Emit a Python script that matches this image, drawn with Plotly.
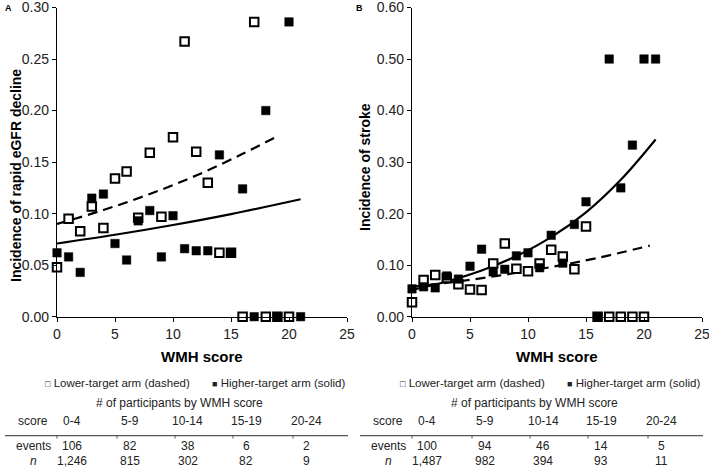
import plotly.graph_objects as go

# ---------------- data ----------------
# Panel A: incidence of rapid eGFR decline by WMH score
wmh_lower_A = [0, 1, 2, 3, 4, 5, 6, 7, 8, 9, 10, 11, 12, 13, 14, 15, 16, 17, 18, 19, 20]
inc_lower_A = [0.048, 0.095, 0.083, 0.107, 0.086, 0.134, 0.141, 0.096, 0.159, 0.097, 0.174,
               0.267, 0.160, 0.130, 0.062, 0.062, 0.0, 0.286, 0.0, 0.0, 0.0]
wmh_higher_A = [0, 1, 2, 3, 4, 5, 6, 7, 8, 9, 10, 11, 12, 13, 14, 15, 16, 17, 18, 19, 20, 21]
inc_higher_A = [0.062, 0.058, 0.043, 0.115, 0.119, 0.071, 0.055, 0.093, 0.103, 0.058, 0.098,
                0.066, 0.064, 0.064, 0.157, 0.062, 0.124, 0.0, 0.200, 0.0, 0.286, 0.0]
# trend lines
trend_lower_A_x = [0, 4, 8, 12, 16, 19]
trend_lower_A_y = [0.090, 0.1035, 0.119, 0.137, 0.158, 0.175]
trend_higher_A_x = [0, 5, 10, 15, 21]
trend_higher_A_y = [0.071, 0.0795, 0.089, 0.0996, 0.114]

# Panel B: incidence of stroke by WMH score
wmh_lower_B = [0, 1, 2, 3, 4, 5, 6, 7, 8, 9, 10, 11, 12, 13, 14, 15, 16, 17, 18, 19, 20]
inc_lower_B = [0.028, 0.071, 0.081, 0.075, 0.063, 0.053, 0.052, 0.103, 0.142, 0.093, 0.088,
               0.103, 0.130, 0.117, 0.092, 0.175, 0.0, 0.0, 0.0, 0.0, 0.0]
wmh_higher_B = [0, 1, 2, 3, 4, 5, 6, 7, 8, 9, 10, 11, 12, 13, 14, 15, 16, 17, 18, 19, 20, 21]
inc_higher_B = [0.054, 0.058, 0.056, 0.079, 0.073, 0.098, 0.131, 0.087, 0.092, 0.118, 0.124,
                0.095, 0.158, 0.104, 0.179, 0.223, 0.0, 0.500, 0.250, 0.333, 0.500, 0.500]
trend_lower_B_x = [0, 4, 8, 12, 16, 20.5]
trend_lower_B_y = [0.058, 0.0685, 0.0815, 0.0964, 0.114, 0.138]
trend_higher_B_x = [0, 3, 6, 9, 12, 15, 18, 21]
trend_higher_B_y = [0.052, 0.0683, 0.0896, 0.1176, 0.1543, 0.2025, 0.2657, 0.344]

# Tables
score_bins = ["0-4", "5-9", "10-14", "15-19", "20-24"]
events_A = [106, 82, 38, 6, 2]
n_A = [1246, 815, 302, 82, 9]
events_B = [100, 94, 46, 14, 5]
n_B = [1487, 982, 394, 93, 11]

y_title_A = "Incidence of rapid eGFR decline"
y_title_B = "Incidence of stroke"
x_title = "WMH score"
legend_lower = "Lower-target arm (dashed)"
legend_higher = "Higher-target arm (solid)"
table_title = "# of participants by WMH score"

# ---------------- figure ----------------
W, H = 709, 468
def px(x):
    return x / W
def py(y):
    return 1 - y / H

FONT = "Liberation Sans, Arial, sans-serif"
TXT = "#222222"

fig = go.Figure()

def add_panel(xa, ya, tlx, tly, thx, thy, xl, yl, xh, yh):
    fig.add_trace(go.Scatter(x=tlx, y=tly, mode="lines", line_shape="spline",
                             line=dict(color="black", width=2.2, dash="10px,6px"),
                             xaxis=xa, yaxis=ya, hoverinfo="skip"))
    fig.add_trace(go.Scatter(x=thx, y=thy, mode="lines", line_shape="spline",
                             line=dict(color="black", width=2.2),
                             xaxis=xa, yaxis=ya, hoverinfo="skip"))
    fig.add_trace(go.Scatter(x=xl, y=yl, mode="markers", cliponaxis=False,
                             marker=dict(symbol="square", size=8.5, color="white",
                                         line=dict(color="black", width=2)),
                             xaxis=xa, yaxis=ya))
    fig.add_trace(go.Scatter(x=xh, y=yh, mode="markers", cliponaxis=False,
                             marker=dict(symbol="square", size=8.5, color="black",
                                         line=dict(color="black", width=0.5)),
                             xaxis=xa, yaxis=ya))

add_panel("x", "y", trend_lower_A_x, trend_lower_A_y, trend_higher_A_x, trend_higher_A_y,
          wmh_lower_A, inc_lower_A, wmh_higher_A, inc_higher_A)
add_panel("x2", "y2", trend_lower_B_x, trend_lower_B_y, trend_higher_B_x, trend_higher_B_y,
          wmh_lower_B, inc_lower_B, wmh_higher_B, inc_higher_B)

ydom = [py(316.7), py(7.5)]
ax_common = dict(showline=True, linecolor="black", linewidth=1.3, ticks="outside",
                 ticklen=4, tickcolor="black", tickwidth=1.2, showgrid=False, zeroline=False,
                 automargin=False, ticklabeloverflow="allow",
                 tickfont=dict(family=FONT, size=14, color=TXT))
fig.update_layout(
    width=W, height=H, margin=dict(l=0, r=0, t=0, b=0, autoexpand=False),
    paper_bgcolor="white", plot_bgcolor="white", showlegend=False,
    xaxis=dict(domain=[px(57), px(347)], range=[0, 25], dtick=5, tick0=0, anchor="y", **ax_common),
    yaxis=dict(domain=ydom, range=[0, 0.30], dtick=0.05, tick0=0, tickformat=".2f", anchor="x", **ax_common),
    xaxis2=dict(domain=[px(412), px(702)], range=[0, 25], dtick=5, tick0=0, anchor="y2", **ax_common),
    yaxis2=dict(domain=ydom, range=[0, 0.60], dtick=0.1, tick0=0, tickformat=".2f", anchor="x2", **ax_common),
)

ann = []
def text(x, y, s, size=12, bold=False, angle=0, color=TXT, xanchor="center"):
    ann.append(dict(x=px(x), y=py(y), xref="paper", yref="paper", text=("<b>%s</b>" % s) if bold else s,
                    showarrow=False, textangle=angle, xanchor=xanchor, yanchor="middle",
                    font=dict(family=FONT, size=size, color=color)))

# panel letters
text(8, 8, "A", size=9, bold=True, color="black")
text(359, 8, "B", size=9, bold=True, color="black")
# axis titles
text(16, 176, y_title_A, size=14, bold=True, angle=-90, color="black")
text(365, 167, y_title_B, size=14, bold=True, angle=-90, color="black")
text(202, 356, x_title, size=15, bold=True, color="black")
text(557, 356, x_title, size=15, bold=True, color="black")

sq_open = '<span style="font-size:9px">\u25a1</span> '
sq_fill = '<span style="font-size:9px">\u25a0</span> '
for off in (0, 355):
    text(43 + off, 383, sq_open + legend_lower, size=11.5, xanchor="left")
    text(347 + off, 383, sq_fill + legend_higher, size=11.5, xanchor="right")
    text(179 + off, 403, table_title, size=12)

col_x = [72, 130, 188, 246, 306]
for off, ev, nn in ((0, events_A, n_A), (355, events_B, n_B)):
    text(33 + off, 421, "score", size=12)
    text(33 + off, 446, "events", size=12)
    text(33 + off, 460.5, "<i>n</i>", size=12)
    for cx, lab, e, n in zip(col_x, score_bins, ev, nn):
        text(cx + off, 421, lab, size=12)
        text(cx + off, 446, str(e), size=12)
        text(cx + off, 460.5, f"{n:,}", size=12)

shapes = []
for off in (0, 355):
    shapes.append(dict(type="line", xref="paper", yref="paper", x0=px(5 + off), x1=px(348 + off),
                       y0=py(435.7), y1=py(435.7), line=dict(color="#555555", width=1.2)))
    for tx in (57, 117, 175, 233, 293):
        shapes.append(dict(type="line", xref="paper", yref="paper", x0=px(tx + off), x1=px(tx + off),
                           y0=py(435.7), y1=py(438.5), line=dict(color="#555555", width=1)))

fig.update_layout(annotations=ann, shapes=shapes)
fig.write_html("out.html", config={"displayModeBar": False},
               post_script="document.body.style.margin='0px';document.body.style.overflow='hidden';")
